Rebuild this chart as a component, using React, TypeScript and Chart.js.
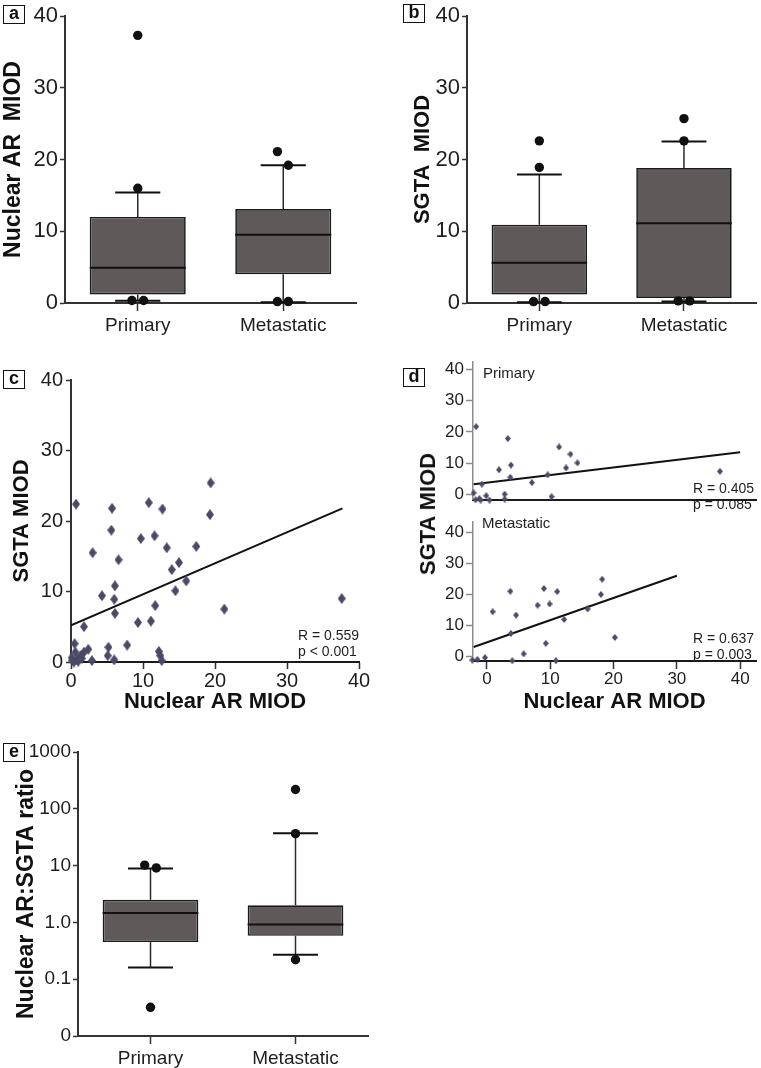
import React, { useEffect, useRef } from 'react';
import { Chart, registerables } from 'chart.js';

Chart.register(...registerables);

const FONT = "'Liberation Sans', Arial, Helvetica, sans-serif";
Chart.defaults.font.family = FONT;

// ---------- shared ----------
const CATEGORIES = ['Primary', 'Metastatic'];
const LINEAR_TICKS = [0, 10, 20, 30, 40];

// ---------- panel a : Nuclear AR MIOD ----------
const aQ1 = [1.2, 4.0];
const aMedian = [4.9, 9.5];
const aQ3 = [12.0, 13.1];
const aWhiskerLow = [0.3, 0.1];
const aWhiskerHigh = [15.4, 19.2];
const aOutlierX = [0, 0, -0.04, 0.04, 0.96, 1.035, 0.96, 1.035];
const aOutlierY = [37.3, 16.0, 0.35, 0.35, 21.1, 19.2, 0.2, 0.2];

// ---------- panel b : SGTA MIOD ----------
const bQ1 = [1.2, 0.7];
const bMedian = [5.6, 11.1];
const bQ3 = [10.9, 18.8];
const bWhiskerLow = [0.1, 0.2];
const bWhiskerHigh = [17.9, 22.5];
const bOutlierX = [0, 0, -0.04, 0.04, 1, 1, 0.96, 1.04];
const bOutlierY = [22.6, 18.9, 0.2, 0.2, 25.7, 22.6, 0.3, 0.3];

// ---------- panel c : scatter all ----------
const cX = [0.7, 5.7, 5.6, 3.0, 6.6, 6.1, 6.0, 6.1, 4.3, 1.8, 0.5, 10.8, 9.7, 11.6, 12.7, 13.3, 15.0, 14.0, 16.0, 14.5, 17.4, 19.4, 19.3, 21.3, 37.6, 11.7, 9.3, 11.1, 7.8, 5.2, 5.1, 6.0, 12.2, 12.4, 12.6, 2.9, 2.4, 1.8, 1.3, 0.8, 0.6, 0.2, 0.4, 1.0, 1.5, 0.1];
const cY = [22.4, 21.8, 18.7, 15.5, 14.5, 10.8, 8.9, 6.9, 9.4, 5.0, 2.6, 22.6, 17.5, 17.9, 21.7, 16.2, 14.1, 13.1, 11.5, 10.1, 16.4, 25.4, 20.9, 7.5, 9.0, 8.0, 5.6, 5.8, 2.4, 2.1, 0.9, 0.3, 1.5, 0.9, 0.2, 0.2, 1.8, 1.4, 0.9, 0.3, 1.4, 0.2, 0.0, 0.1, 0.5, 0.6];
const cFitX = [0, 37.7];
const cFitY = [5.2, 21.8];
const cStats = ['R = 0.559', 'p < 0.001'];

// ---------- panel d : scatter by group ----------
const dPrimaryX = [-1.7, 3.3, 11.4, 13.2, 14.3, 12.5, 3.8, 1.9, 3.7, 7.1, 9.6, -0.8, 36.8, -2.1, -0.1, 2.8, 2.8, 10.2, -1.8, -1.2, -1.0, 0.4];
const dPrimaryY = [21.7, 17.9, 15.2, 12.9, 10.1, 8.5, 9.4, 7.9, 5.5, 3.8, 6.3, 3.3, 7.4, 0.5, -0.4, 0.1, -1.5, -0.7, -1.7, -1.3, -1.8, -1.8];
const dPrimaryFitX = [-2.1, 40];
const dPrimaryFitY = [3.3, 13.5];
const dPrimaryStats = ['R = 0.405', 'p = 0.085'];

const dMetaX = [18.2, 18.0, 9.0, 11.1, 3.7, 8.0, 9.9, 15.9, 0.9, 4.6, 12.2, 3.8, 20.2, 9.3, 5.8, -0.3, -2.3, -1.5, 4.0, 10.9];
const dMetaY = [24.8, 19.9, 21.8, 20.8, 20.9, 16.4, 16.8, 15.2, 14.3, 13.2, 11.8, 7.3, 6.0, 4.1, 0.7, -0.5, -1.3, -1.1, -1.5, -1.5];
const dMetaFitX = [-2.1, 30];
const dMetaFitY = [2.9, 25.9];
const dMetaStats = ['R = 0.637', 'p = 0.003'];

// ---------- panel e : ratio (log) ----------
const eQ1 = [0.45, 0.58];
const eMedian = [1.46, 0.92];
const eQ3 = [2.5, 2.0];
const eWhiskerLow = [0.16, 0.27];
const eWhiskerHigh = [8.9, 37];
const eOutlierX = [-0.04, 0.04, 0, 1, 1, 1];
const eOutlierY = [10.2, 9.1, 0.032, 219, 36.5, 0.22];
const eTickValues = [0.01, 0.1, 1, 10, 100, 1000];
const eTickLabels = ['0', '0.1', '1.0', '10', '100', '1000'];

// ---------- styles ----------
const AXIS = '#333333';
const TEXT = '#1e1e1e';
const BOX_FILL = '#5e5a5a';
const BOX_EDGE = '#1a1a1a';
const BOX_HALF = 0.33;
const CAP_HALF = 0.155;

const fixWidth = (w: number) => (s: any) => { s.width = w; };
const fixHeight = (h: number) => (s: any) => { s.height = h; };

function diamond(w: number, h: number, color: string) {
  const c = document.createElement('canvas');
  c.width = w;
  c.height = h;
  const ctx = c.getContext('2d')!;
  ctx.fillStyle = color;
  ctx.beginPath();
  ctx.moveTo(w / 2, 0);
  ctx.lineTo(w, h / 2);
  ctx.lineTo(w / 2, h);
  ctx.lineTo(0, h / 2);
  ctx.closePath();
  ctx.fill();
  return c;
}

const baseOptions = (pad: any) => ({
  responsive: false,
  animation: false,
  events: [],
  layout: { padding: pad },
  plugins: { legend: { display: false }, tooltip: { enabled: false } },
});

function boxPlotConfig(p: any) {
  const datasets: any[] = [];
  datasets.push({
    type: 'bar',
    data: CATEGORIES.map((_, i) => ({ x: i, y: [p.q1[i], p.q3[i]] })),
    backgroundColor: BOX_FILL,
    borderColor: BOX_EDGE,
    borderWidth: 1.7,
    borderSkipped: false,
    barPercentage: BOX_HALF * 2,
    categoryPercentage: 1,
    order: 5,
  });
  const seg = (pts: any[], color: string, width: number, order: number) => ({
    type: 'line',
    data: pts,
    borderColor: color,
    borderWidth: width,
    pointRadius: 0,
    fill: false,
    order,
    clip: false,
  });
  CATEGORIES.forEach((_, i) => {
    datasets.push(seg([{ x: i, y: p.q3[i] }, { x: i, y: p.hi[i] }], '#2a2a2a', 1.5, 6));
    datasets.push(seg([{ x: i, y: p.lo[i] }, { x: i, y: p.q1[i] }], '#2a2a2a', 1.5, 6));
    datasets.push(seg([{ x: i - CAP_HALF, y: p.hi[i] }, { x: i + CAP_HALF, y: p.hi[i] }], '#111', 2, 2));
    datasets.push(seg([{ x: i - CAP_HALF, y: p.lo[i] }, { x: i + CAP_HALF, y: p.lo[i] }], '#111', 2, 2));
    datasets.push(seg([{ x: i - BOX_HALF, y: p.med[i] }, { x: i + BOX_HALF, y: p.med[i] }], '#111', 2, 2));
  });
  datasets.push({
    type: 'scatter',
    data: p.outX.map((x: number, k: number) => ({ x, y: p.outY[k] })),
    pointRadius: 4.7,
    pointBackgroundColor: '#111',
    pointBorderWidth: 0,
    order: 0,
    clip: false,
  });

  const yScale: any = {
    type: p.log ? 'logarithmic' : 'linear',
    min: p.yMin,
    max: p.yMax,
    afterBuildTicks: (s: any) => { s.ticks = p.yTicks.map((v: number) => ({ value: v })); },
    afterFit: fixWidth(p.yWidth),
    ticks: {
      font: { size: p.tickSize },
      color: TEXT,
      padding: 2,
      autoSkip: false,
      callback: (v: number) => (p.yLabels ? p.yLabels[p.yTicks.indexOf(v)] : String(v)),
    },
    grid: { drawOnChartArea: false, drawTicks: true, tickLength: 5, tickColor: AXIS, tickWidth: 1.5 },
    border: { display: true, color: AXIS, width: 2 },
    title: { display: true, text: p.title, font: { size: p.titleSize, weight: 'bold' }, padding: 0, color: '#111' },
  };

  return {
    type: 'bar',
    data: { datasets },
    options: {
      ...baseOptions(p.pad),
      scales: {
        x: {
          type: 'linear',
          min: -0.5,
          max: 1.5,
          offset: false,
          afterBuildTicks: (s: any) => { s.ticks = CATEGORIES.map((_, i) => ({ value: i })); },
          afterFit: fixHeight(p.xHeight),
          ticks: {
            font: { size: 19 },
            color: TEXT,
            padding: 3,
            maxRotation: 0,
            autoSkip: false,
            callback: (v: number) => CATEGORIES[v],
          },
          grid: { drawOnChartArea: false, drawTicks: true, tickLength: 8, tickColor: AXIS, tickWidth: 1.5, offset: false },
          border: { display: true, color: AXIS, width: 2 },
        },
        y: yScale,
      },
    },
  };
}

function scatterConfig(p: any) {
  const datasets: any[] = [
    {
      type: 'line',
      data: p.fitX.map((x: number, k: number) => ({ x, y: p.fitY[k] })),
      borderColor: '#111',
      borderWidth: 2,
      pointRadius: 0,
      fill: false,
      order: 2,
    },
    {
      type: 'scatter',
      data: p.xs.map((x: number, k: number) => ({ x, y: p.ys[k] })),
      pointStyle: p.point,
      pointRadius: 4,
      order: 1,
      clip: false,
    },
  ];
  return {
    type: 'scatter',
    data: { datasets },
    options: {
      ...baseOptions(p.pad),
      scales: {
        x: {
          type: 'linear',
          min: p.xMin,
          max: p.xMax,
          display: true,
          afterBuildTicks: (s: any) => { s.ticks = LINEAR_TICKS.map((v) => ({ value: v })); },
          afterFit: fixHeight(p.xHeight),
          ticks: { display: p.xTicks, font: { size: p.tickSize }, color: TEXT, padding: 0, maxRotation: 0, autoSkip: false },
          grid: { drawOnChartArea: false, drawTicks: p.xTicks, tickLength: p.xTickLen, tickColor: AXIS, tickWidth: 1.5 },
          border: { display: true, color: '#1a1a1a', width: 2 },
          title: p.xTitle
            ? { display: true, text: p.xTitle, font: { size: 22, weight: 'bold' }, padding: 0, color: '#111' }
            : { display: false },
        },
        y: {
          type: 'linear',
          min: p.yMin,
          max: p.yMax,
          afterBuildTicks: (s: any) => { s.ticks = LINEAR_TICKS.map((v) => ({ value: v })); },
          afterFit: fixWidth(p.yWidth),
          ticks: { font: { size: p.tickSize }, color: TEXT, padding: p.yPad, autoSkip: false },
          grid: { drawOnChartArea: false, drawTicks: true, tickLength: p.yTickLen, tickColor: p.yAxisColor, tickWidth: 1.5 },
          border: { display: true, color: p.yAxisColor, width: p.yAxisWidth },
          title: p.yTitle
            ? { display: true, text: p.yTitle, font: { size: 22, weight: 'bold' }, padding: 0, color: '#111' }
            : { display: false },
        },
      },
    },
  };
}

function ChartBox({ left, top, width, height, make }: any) {
  const ref = useRef<HTMLCanvasElement>(null);
  useEffect(() => {
    const chart = new Chart(ref.current as HTMLCanvasElement, make());
    return () => chart.destroy();
  }, []);
  return (
    <canvas
      ref={ref}
      width={width}
      height={height}
      style={{ position: 'absolute', left, top, width, height }}
    />
  );
}

function PanelTag({ left, top, letter }: any) {
  return (
    <div
      style={{
        position: 'absolute',
        left,
        top,
        width: 22,
        height: 19,
        boxSizing: 'border-box',
        border: '1.5px solid #111',
        font: `bold 18px ${FONT}`,
        lineHeight: '15px',
        textAlign: 'center',
        color: '#111',
      }}
    >
      {letter}
    </div>
  );
}

function Note({ left, top, lines, size = 15 }: any) {
  return (
    <div
      style={{
        position: 'absolute',
        left,
        top,
        font: `${size}px ${FONT}`,
        lineHeight: '16px',
        color: TEXT,
        whiteSpace: 'pre',
      }}
    >
      {lines.join('\n')}
    </div>
  );
}

export default function App() {
  return (
    <div
      style={{
        position: 'absolute',
        left: 0,
        top: 0,
        width: 761,
        height: 1068,
        overflow: 'hidden',
        background: '#fff',
        fontFamily: FONT,
      }}
    >
      <ChartBox
        left={0}
        top={0}
        width={380}
        height={340}
        make={() =>
          boxPlotConfig({
            q1: aQ1, med: aMedian, q3: aQ3, lo: aWhiskerLow, hi: aWhiskerHigh,
            outX: aOutlierX, outY: aOutlierY,
            yMin: 0, yMax: 40, yTicks: LINEAR_TICKS, tickSize: 22,
            title: 'Nuclear AR  MIOD', titleSize: 23,
            yWidth: 65, xHeight: 37,
            pad: { left: 0, top: 16, right: 24, bottom: 0 },
          })
        }
      />
      <ChartBox
        left={380}
        top={0}
        width={381}
        height={340}
        make={() =>
          boxPlotConfig({
            q1: bQ1, med: bMedian, q3: bQ3, lo: bWhiskerLow, hi: bWhiskerHigh,
            outX: bOutlierX, outY: bOutlierY,
            yMin: 0, yMax: 40, yTicks: LINEAR_TICKS, tickSize: 22,
            title: 'SGTA  MIOD', titleSize: 22,
            yWidth: 57, xHeight: 37,
            pad: { left: 30, top: 16, right: 3, bottom: 0 },
          })
        }
      />
      <ChartBox
        left={0}
        top={340}
        width={380}
        height={380}
        make={() =>
          scatterConfig({
            xs: cX, ys: cY, fitX: cFitX, fitY: cFitY,
            point: diamond(8, 11, '#4a4a66'),
            xMin: 0, xMax: 40, yMin: 0, yMax: 40,
            xTicks: true, tickSize: 20, xTickLen: 7, yTickLen: 5, yPad: 3,
            yAxisColor: AXIS, yAxisWidth: 2,
            xTitle: 'Nuclear AR MIOD', yTitle: 'SGTA MIOD',
            yWidth: 62, xHeight: 53,
            pad: { left: 9, top: 40, right: 21, bottom: 5 },
          })
        }
      />
      <ChartBox
        left={380}
        top={340}
        width={381}
        height={172}
        make={() =>
          scatterConfig({
            xs: dPrimaryX, ys: dPrimaryY, fitX: dPrimaryFitX, fitY: dPrimaryFitY,
            point: diamond(6, 7, '#4d4c68'),
            xMin: -2.2, xMax: 42.5, yMin: -1.7, yMax: 42.4,
            xTicks: false, tickSize: 17, xTickLen: 0, yTickLen: 7, yPad: 2,
            yAxisColor: '#8c8c8c', yAxisWidth: 1.5,
            yWidth: 93, xHeight: 2,
            pad: { left: 0, top: 22, right: 0, bottom: 0 },
          })
        }
      />
      <ChartBox
        left={380}
        top={510}
        width={381}
        height={210}
        make={() =>
          scatterConfig({
            xs: dMetaX, ys: dMetaY, fitX: dMetaFitX, fitY: dMetaFitY,
            point: diamond(6, 7, '#4d4c68'),
            xMin: -2.2, xMax: 42.5, yMin: -1.6, yMax: 43.2,
            xTicks: true, tickSize: 17, xTickLen: 8, yTickLen: 7, yPad: 2,
            yAxisColor: '#8c8c8c', yAxisWidth: 1.5,
            xTitle: 'Nuclear AR MIOD',
            yWidth: 93, xHeight: 54,
            pad: { left: 0, top: 0, right: 0, bottom: 5 },
          })
        }
      />
      <ChartBox
        left={0}
        top={720}
        width={380}
        height={348}
        make={() =>
          boxPlotConfig({
            q1: eQ1, med: eMedian, q3: eQ3, lo: eWhiskerLow, hi: eWhiskerHigh,
            outX: eOutlierX, outY: eOutlierY,
            log: true, yMin: 0.01, yMax: 1000, yTicks: eTickValues, yLabels: eTickLabels, tickSize: 19,
            title: 'Nuclear AR:SGTA ratio', titleSize: 23,
            yWidth: 65, xHeight: 32,
            pad: { left: 13, top: 32, right: 12, bottom: 0 },
          })
        }
      />

      <div
        style={{
          position: 'absolute',
          left: 428,
          top: 514,
          transform: 'translate(-50%, -50%) rotate(-90deg)',
          font: `bold 22px ${FONT}`,
          whiteSpace: 'nowrap',
          color: '#111',
        }}
      >
        SGTA MIOD
      </div>
      <Note left={483} top={365} lines={['Primary']} />
      <Note left={482} top={515} lines={['Metastatic']} />
      <Note left={298} top={627} lines={cStats} size={14} />
      <Note left={693} top={480} lines={dPrimaryStats} size={14} />
      <Note left={693} top={630} lines={dMetaStats} size={14} />

      <PanelTag left={3} top={5} letter="a" />
      <PanelTag left={403} top={4} letter="b" />
      <PanelTag left={3} top={370} letter="c" />
      <PanelTag left={403} top={368} letter="d" />
      <PanelTag left={3} top={743} letter="e" />
    </div>
  );
}
